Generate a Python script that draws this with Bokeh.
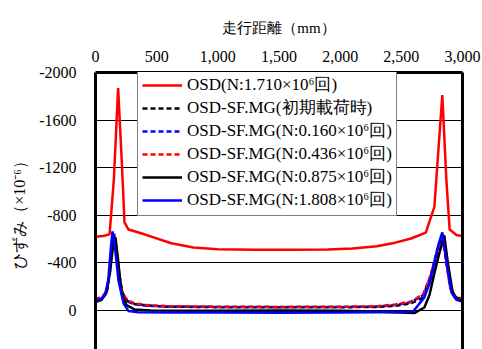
from bokeh.plotting import figure
from bokeh.models import Range1d, FixedTicker, NumeralTickFormatter, LinearAxis, Legend, LegendItem
from bokeh.embed import file_html
from bokeh.resources import INLINE

# ---- data ----
x_ticks = [0, 500, 1000, 1500, 2000, 2500, 3000]
y_ticks = [-2000, -1600, -1200, -800, -400, 0]

labels = [
    "OSD(N:1.710×10⁶回)",
    "OSD-SF.MG(初期載荷時)",
    "OSD-SF.MG(N:0.160×10⁶回)",
    "OSD-SF.MG(N:0.436×10⁶回)",
    "OSD-SF.MG(N:0.875×10⁶回)",
    "OSD-SF.MG(N:1.808×10⁶回)",
]

osd_x = [0, 60, 115, 150, 185, 215, 237, 270, 400, 620, 800, 1000, 1300, 1600, 1900,
         2100, 2300, 2450, 2580, 2700, 2770, 2835, 2868, 2895, 2950, 3000]
osd_y = [-620, -625, -640, -1100, -1870, -1250, -740, -680, -640, -565, -530, -515, -510, -510, -512,
         -520, -540, -570, -605, -655, -870, -1810, -1100, -680, -635, -625]

dash_x = [0, 50, 90, 115, 135, 152, 170, 195, 220, 260, 320, 420, 600, 1000, 1500, 2000,
          2300, 2450, 2580, 2680, 2740, 2790, 2840, 2870, 2900, 2940, 3000]
init_y = [-90, -100, -150, -300, -520, -630, -520, -300, -150, -80, -55, -42, -32, -28, -27, -27,
          -30, -40, -60, -110, -250, -450, -600, -420, -200, -110, -95]
n0160_y = [-85, -95, -145, -310, -540, -645, -510, -280, -140, -75, -52, -40, -32, -30, -28, -30,
           -33, -45, -70, -130, -290, -500, -640, -400, -190, -105, -90]
n0436_y = [-100, -110, -160, -320, -510, -615, -500, -280, -150, -85, -60, -45, -36, -32, -30, -31,
           -35, -50, -75, -140, -300, -480, -590, -380, -190, -115, -100]

n0875_x = [0, 50, 90, 120, 145, 163, 185, 212, 253, 320, 450, 700, 1000, 1500, 2000, 2300,
           2500, 2606, 2688, 2730, 2770, 2810, 2851, 2880, 2920, 2960, 3000]
n0875_y = [-70, -90, -150, -330, -560, -615, -420, -150, -45, -8, 0, 3, 2, 0, 3, 8,
           18, 22, -25, -130, -311, -480, -630, -400, -150, -95, -85]

n1808_x = [0, 50, 80, 105, 125, 139, 160, 188, 229, 270, 350, 600, 1000, 1500, 2000, 2300,
           2500, 2600, 2688, 2730, 2770, 2805, 2835, 2870, 2910, 2950, 3000]
n1808_y = [-80, -100, -140, -260, -520, -665, -520, -250, -60, 5, 15, 18, 18, 20, 18, 15,
           15, 5, -110, -230, -400, -560, -657, -400, -150, -90, -75]

SERIF = "'Liberation Serif', 'Times New Roman', serif"

p = figure(width=482, height=349, output_backend="svg", toolbar_location=None,
           x_axis_location="above",
           x_range=Range1d(0, 3000), y_range=Range1d(328, -2000),
           min_border_left=95, min_border_right=20, min_border_top=72, min_border_bottom=0)
p.outline_line_color = None
p.background_fill_color = "white"
p.border_fill_color = "white"

p.xgrid.visible = False
p.ygrid.ticker = FixedTicker(ticks=y_ticks)
p.ygrid.grid_line_color = "black"
p.ygrid.grid_line_width = 1

for ax in (p.xaxis[0], p.yaxis[0]):
    ax.axis_line_width = 3
    ax.axis_line_color = "black"
    ax.major_tick_line_color = None
    ax.minor_tick_line_color = None
    ax.major_tick_out = 0
    ax.major_tick_in = 0
    ax.minor_tick_out = 0
    ax.major_label_text_font = SERIF
    ax.major_label_text_font_size = "16px"
    ax.major_label_text_color = "black"
    ax.axis_label_text_font = SERIF
    ax.axis_label_text_font_style = "normal"
    ax.axis_label_text_font_size = "15px"
    ax.axis_label_text_color = "black"

p.xaxis[0].ticker = FixedTicker(ticks=x_ticks)
p.xaxis[0].formatter = NumeralTickFormatter(format="0,0")
p.xaxis[0].major_label_standoff = 11
p.xaxis[0].axis_label = "走行距離（mm）"
p.xaxis[0].axis_label_standoff = 12

p.yaxis[0].ticker = FixedTicker(ticks=y_ticks)
p.yaxis[0].formatter = NumeralTickFormatter(format="0")
p.yaxis[0].major_label_standoff = 19
p.yaxis[0].axis_label = "ひずみ（×10⁻⁶）"
p.yaxis[0].axis_label_text_font_size = "16px"
p.yaxis[0].axis_label_standoff = 8

right = LinearAxis(ticker=FixedTicker(ticks=[]), axis_line_width=3, axis_line_color="black",
                   major_tick_line_color=None, minor_tick_line_color=None,
                   major_tick_out=0, major_tick_in=0, minor_tick_out=0,
                   major_label_text_alpha=0)
p.add_layout(right, "right")

r0 = p.line(osd_x, osd_y, line_color="#ff0000", line_width=2.5)
r1 = p.line(dash_x, init_y, line_color="black", line_width=2.5, line_dash="5 3")
r2 = p.line(dash_x, n0160_y, line_color="#0000ff", line_width=2.5, line_dash="5 3")
r3 = p.line(dash_x, n0436_y, line_color="#ff0000", line_width=2.5, line_dash="5 3")
r4 = p.line(n0875_x, n0875_y, line_color="black", line_width=2.5)
r5 = p.line(n1808_x, n1808_y, line_color="#0000ff", line_width=2.5)

renderers = [r0, r1, r2, r3, r4, r5]
legend = Legend(items=[LegendItem(label=l, renderers=[r]) for l, r in zip(labels, renderers)],
                location=(42, 133), orientation="vertical",
                padding=4, spacing=0, margin=0,
                label_height=22, glyph_height=22, glyph_width=40, label_standoff=5,
                label_text_font=SERIF, label_text_font_size="17px", label_text_color="black",
                label_text_baseline="middle",
                border_line_color="black", border_line_width=1.5,
                background_fill_color="white", background_fill_alpha=1.0)
p.add_layout(legend)

open("out.html", "w").write(file_html(p, INLINE))
